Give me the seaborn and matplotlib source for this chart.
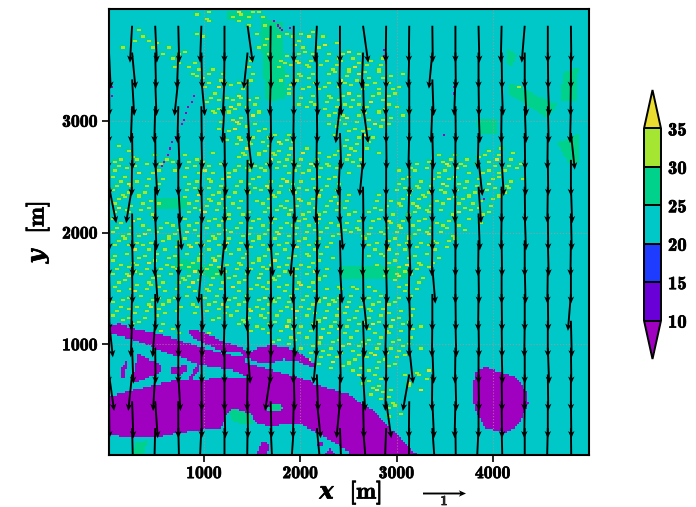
import numpy as np
import pandas as pd
import seaborn as sns
import matplotlib.pyplot as plt
import matplotlib.patheffects as pe
from matplotlib.path import Path
from matplotlib.colors import ListedColormap, BoundaryNorm

# colour bands of the field
levels = [10, 15, 20, 25, 30, 35]
band_colors = ['#6a00d8', '#1e3cff', '#00c8c8', '#00d28c', '#a4e632']
under_color = '#a000c0'
over_color = '#e8dc30'

# water areas, metres
upper_channel = [(0, 1166), (114, 1175), (253, 1136), (462, 1100), (705, 1037), (948, 965), (1191, 912), (1365, 882),
                 (1434, 912), (1538, 956), (1677, 980), (1833, 971), (1990, 912), (2163, 807), (2129, 783), (1955, 843),
                 (1816, 858), (1677, 828), (1573, 822), (1434, 876), (1406, 831), (1851, 726), (2163, 642), (1469, 696),
                 (1278, 762), (948, 807), (774, 867), (531, 941), (253, 1037), (0, 1091)]
main_river = [(0, 523), (253, 583), (705, 672), (948, 672), (1208, 696), (1469, 696), (2129, 642), (2511, 538), (2615, 463),
              (2754, 403), (2893, 269), (3032, 161), (3188, 18), (3230, 0), (2511, 0), (2493, 29), (2337, 119), (2163, 194),
              (1990, 278), (1851, 275), (1677, 254), (1538, 284), (1469, 373), (1295, 418), (1226, 373), (1174, 239),
              (948, 224), (705, 194), (462, 149), (253, 149), (10, 179), (0, 179)]
side_channel = [(826, 1121), (948, 1112), (1191, 1016), (1399, 956), (1434, 912), (1191, 927), (948, 1016), (844, 1076)]
pond_a = [(305, 912), (392, 867), (548, 807), (548, 747), (392, 687), (253, 642), (236, 672), (271, 792)]
pond_b = [(114, 687), (132, 777), (177, 846), (191, 807), (156, 687)]
pond_c = [(653, 792), (809, 801), (816, 762), (739, 717), (653, 726)]
pond_d = [(816, 687), (930, 807), (948, 777), (861, 672)]
pond_e = [(1538, 0), (1590, 119), (1677, 104), (1642, 0)]
pond_f = [(2163, 74), (2215, 134), (2233, 89)]
pond_g = [(2233, 0), (2302, 60), (2355, 0)]
lake = [(3793, 628), (3814, 745), (3918, 789), (4074, 745), (4231, 700), (4356, 565), (4366, 449), (4262, 269),
        (4127, 197), (4054, 215), (3918, 242), (3814, 404), (3783, 538)]
water_areas = [upper_channel, main_river, side_channel, pond_a, pond_b, pond_c, pond_d, pond_e, pond_f, pond_g, lake]

# warmer patches (25-30)
warm_areas = [[(1573, 3930), (1813, 3870), (1830, 3200), (1640, 3160), (1600, 3500)],
              [(4157, 3346), (4668, 3140), (4564, 3023), (4178, 3229)],
              [(4147, 3650), (4251, 3588), (4199, 3480), (4147, 3520)],
              [(4730, 3435), (4887, 3470), (4876, 3166), (4700, 3166)],
              [(3834, 3023), (4040, 3023), (4040, 2870), (3850, 2870)],
              [(1230, 3974), (1500, 3974), (1500, 3900), (1230, 3900)],
              [(4668, 2799), (4900, 2880), (4900, 2620), (4780, 2620)],
              [(2407, 1686), (3100, 1700), (3100, 1570), (2407, 1570)],
              [(690, 1776), (1180, 1660), (1180, 1570), (690, 1670)],
              [(480, 2300), (820, 2300), (820, 2210), (480, 2210)],
              [(1642, 433), (1747, 463), (1833, 418), (1781, 397), (1642, 403)],
              [(1243, 388), (1295, 415), (1469, 373), (1503, 284), (1400, 270), (1295, 300)],
              [(270, 120), (400, 130), (360, 0), (250, 0)]]

# small cold spots
spot_x = [552, 580, 610, 637, 665, 692, 720, 750, 780, 805, 830, 858, 885, 1720, 1760, 1780, 1800, 1880, 30, 40, 2860, 2870,
          2880, 3590, 3600, 3480, 3907]
spot_y = [2583, 2640, 2690, 2745, 2800, 2850, 2905, 2960, 3010, 3065, 3120, 3170, 3225, 3900, 3860, 3840, 3820, 3830, 3300,
          3230, 3640, 3580, 3520, 3310, 3240, 2870, 2305]

# warm speckles over the built-up area, one row every 62.5 m from the top
speckle_rows = [
    ".................#.#.....*#.#.#",
    "...................##...#.##..#",
    "............................#..#",
    "......#..........#...........#.....#..#.#",
    ".....##.#.........#............#.#..#.#*..#",
    "..#.....##.#.................#.#.....##..#.*.#",
    "..........#..#.#...............#...#.#.##..#..#.*#",
    "............#.#..#..........#.....##.#*.#..#.##.#.#.#.#",
    ".............#..##..#.......#.....#.#..##.#.##.#.*.#.##",
    "................##.#..#.....#......#.##.#..#.#.##*.#..#.#.#",
    "..................#.#.##..#.#.....#..#.#.#..#.*#.#.#.##.#",
    "...................#..*.#.##.......##.#.##.#..#.#.##.#..#.#.......................#",
    "....................##.#.*#..#......#.#.#..##.#.*#..#.##.#",
    "...................#.#..#.#*.#........#.##.#.#.##.#.*.#.#",
    "....................#.##*#.#.#.........#...#.#..#.##.#.#.#.#",
    ".....................#..#.#.*.#............#.##*.#.#..#.#.#",
    "......................#.#*#..#..............##.#.#.#.*#.#",
    "......................##.*.#.#.#.............#.#.##.#.#",
    ".......................#.#*.#..#.#.##........#.#.#.*#",
    "..#......................#.##.#.#*#.#..........#.#.#",
    "....#...............#.....#*.#.##.#.#.*#.#....#.##.#.#......................#.#.#",
    "..#.##...#.#...#.#.......#.#..#.*#.##.#..#.#.#.#*.#...............#.##.#.#.#.*#.#",
    "#.#..#.#..#.#..#.##.#.#...##.#.#.#.##.#.*#.##.#.#.#..........#.#..#*#.##.#.#.#..#.#",
    ".#.#.*..#.#..#.#.#.*#..#.#.##.##.#.#.##.#.#..#.#..........#.##.#.#.#.*.#..#.##.#.#",
    "#.##.#.#..#....#.#.##.#.*.#.#.#.#.#*..#.#.##.#............#.*.#.#.##.#.#.#..#.#.#.#",
    ".#.*#..#.#.....#.#..#.##.#.#.#.*#.#.#.#..#.#.#...........#.#.##.#.*#.#.#.#.*.#.##",
    "#.#.##.#.*.....#.*#.#.#..#.##.#.#.#.##.#.*#..#.#.....#...#.#*.#.#.##.#.#.#.#.#.#",
    ".#.#..#.#......#.#.##.*.#.#..#.#.#.#.*#.#.#.##.#.....#..#.#..#.#.#.*.##.#.#.#.#",
    "#.*.#.#.##.....#.#.#.#.##.#...#.#.##.#.#.#.#.*.#.....#.#.##.#*#.#.#..#.##.#.#",
    ".#.##.#.#.......#.#*.#.#..#.#..#.#.#*.#.##.#.#.#.#..#.#.#..#.#.##.#.#.*.#.#.#",
    "#.#.*.#..#.#...#.#.#.##.#.#.#.#.##.#.#.#.#*.#..#.#..#.#*#.#.##.#.#.#.#..#.#",
    ".#..#.#.#.#.#.##.#.#.#.*.#..#.#.#.#.##.#.#.#.#.#.##.#..#.#*.#.#.#.##.#.#",
    "#.#.##.*.#.#.#.*.#..#.#.#.#.##.#.#*#.#.#..#.#.#.#.#.#.##.#.#.#.#*.#.#",
    ".#.#.#..#.#.##.#.#.#.#.*#.#.#.#..#.#.#.#.##.#......#.#.#.#.#*.#.##.#.#",
    "#..#.*#.#..#.#.#*.#.##.#..#.#.#.##.#.*.#.#.#.......#.#.#*#.#.#.#.#.#",
    ".#.#.#.#.#.#.#.#.##.#.#.#.#*.#.#.#.#.#.##.#.#.......#.##.#.#.#.#.#",
    "#.#.##.*.#.#..#.#.#.#*.#.##.#.#.#*.#..#.#.#..........#.#.#.*.##.#",
    ".#.#.#.#..#.##.#.*.#.#.#.#..#.##.#.#.#.#.*.#...........#.#.#.#.#",
    "#..#*.#.#.#.#.#.#.#.##.#.#.#.*#.#.#.##.#.#.#...........#.#*.#.#",
    ".#.#.#.##.#..#.#*.#.#.#..#.#.#.#.#.#.#*.#.#..............#.#.#",
    "#.#.#*.#.#.#.#.#.#.##.#.*.#.#.##.#.#.#.#.#.#.##.##.#.#...#.#.#",
    "..#.#.#.#.##.#.#.#.#.#.#.#.#.#.*#.#.#.##.#.*#.#.#.#.#.#...#.#",
    "#.#..#.#*.#.#.#.##.#.#*#.#.#.#.#.#.##.#.#.##.#.*#.#.#.##.#",
    ".#.#.#.#.#.#.#...#.#.#.#.#.#*.#.#.#.#*.#.#.#.#.#.#.##.#.#.#.#",
    "#.#.#..#.#..........#.#.#.#.#.##.#.#.#.#.#.*.#.#.#..#.#.*.#.#",
    "..#.#.#...#..............#.#.#.#.#.*#.#.#.#.##.#.#.#*.#.#.#.#.#",
    "....#.....#.#.#.....#.......#.#.#.#.#.#.#.#.#*.#.#.#.#.##.#.#",
    "..................#.............#.#.##.#.#*.#.#.#.#.#.#.#.#.#",
    "....................................#.#.#.#.#.#.*#.#.##.#.#.#.#",
    ".....................................##.#.#.#.#.#.#.#*.#.#.#",
    "........................................#.#.*#.#.#.#.#.#.#",
    "..........................................#.#.#.#.#..#.#.#",
    "................................................#.*#.#.....#.##*",
    "..................................................#.#.#....*...#",
    "....................................................#*#.#...#.*.",
    "....................................................#.#.#",
    "......................................................#.#",
    ".......................................................#.#",
    "........................................................#.#",
]

# vectors: tails every 240 m, east component in hundredths per row
tail_x = [12 + 240 * i for i in range(21)]
tail_y = [3850, 3610, 3370, 3130, 2890, 2650, 2410, 2170, 1930, 1690, 1450, 1210, 970, 730, 490, 250]
v_row = [-0.86, -0.84, -0.85, -0.86, -0.85, -0.84, -0.85, -0.86, -0.84, -0.85, -0.86, -0.85, -0.84, -0.85, -0.86, -0.85]
u_rows = [
    [np.nan, -5, 4, 2, -3, 0, 12, -1, 0, -4, 0, 12, -1, -1, 1, 0, 2, -2, -7, 0, 1],
    [4, 8, 2, -3, 2, -1, -9, 1, 0, 0, -1, -3, 0, -2, -8, 1, 0, 1, 0, 1, 0],
    [1, 5, 3, -9, 8, -4, 0, -2, 0, 2, 3, 2, -1, 0, 3, -3, 1, 3, 4, 3, -1],
    [0, -3, -2, -2, 1, -5, 4, 1, -1, 1, -10, 12, 0, 0, -3, 1, 3, -1, 3, 2, -2],
    [-2, 1, 1, 3, 2, 1, 10, -2, 1, -1, 3, 0, 1, -2, 2, 0, -2, 1, 1, -1, 9],
    [1, -1, 5, 0, -2, 3, -1, 0, -2, 1, -4, -8, 0, 1, -1, -2, 9, 5, 2, 1, 0],
    [17, -14, 1, 5, 2, 1, 0, 1, 3, -3, -1, 1, -1, -2, 0, -1, 6, 0, 1, -1, 3],
    [1, 1, 3, 8, -1, 1, -2, 0, -1, 2, 7, 1, 2, 1, 0, 1, 3, -1, 3, 1, 2],
    [0, 2, -1, 1, -1, -8, 1, 5, -8, 1, 2, -1, 0, 3, -1, 0, -1, 1, 0, 2, -1],
    [2, 1, 6, 0, -7, 2, 0, 1, -2, 0, 5, 1, 2, -1, 7, 0, 1, 0, 2, -1, 0],
    [1, -2, 1, -1, 3, 0, -2, 0, 1, -8, 1, 9, -1, 2, 0, 1, -1, 1, 0, 1, -7],
    [9, -3, -6, 1, 2, -2, 2, 1, 3, -1, 0, 3, -2, 0, -1, 2, 1, 1, -1, 0, 2],
    [-1, 3, 1, 0, 1, 0, 6, -1, -1, -8, 2, 1, 0, 9, 3, -1, 0, 2, 0, 3, 1],
    [12, -9, -5, 5, 1, 0, -1, -13, 2, 3, -1, 5, -2, -15, -1, 2, 1, 1, -1, 1, 0],
    [1, 3, 6, 0, 1, 2, 1, 2, -2, 9, -8, 2, 12, -1, 4, -2, 0, 1, -1, 0, 1],
    [-1, 2, -2, 2, -4, 0, -1, 4, -6, 8, 3, 7, -3, -1, 6, 1, -4, 2, 0, -2, 1],
]

x_ticks = [1000, 2000, 3000, 4000]
y_ticks = [1000, 2000, 3000]

# build the field on a fine grid
nx_cells, ny_cells = 240, 203
xs = np.linspace(0, 5000, nx_cells, endpoint=False) + 5000 / nx_cells / 2
ys = np.linspace(4000, 0, ny_cells, endpoint=False) - 4000 / ny_cells / 2
xx, yy = np.meshgrid(xs, ys)
cells = np.column_stack([xx.ravel(), yy.ravel()])
field = np.full(xx.shape, 22.0)


def fill_area(verts, value):
    field[Path(verts).contains_points(cells).reshape(xx.shape)] = value


for verts in warm_areas[:10]:
    fill_area(verts, 27)
for verts in water_areas:
    fill_area(verts, 8)
for verts in warm_areas[10:]:
    fill_area(verts, 27)
is_water = field < 10

# green rims first, then the dots, nudged so they do not sit in rows
dots = []
for r, row in enumerate(speckle_rows):
    for c, ch in enumerate(row):
        if ch == '.':
            continue
        i = int(r * 62.5 / 4000 * ny_cells) + 1 + (c * 7 + r * 3) % 3 - 1
        j = int(c * 52 / 5000 * nx_cells) + 1 + (r * 5 + c * 2) % 3 - 1
        i = min(max(i, 1), ny_cells - 1)
        j = min(max(j, 1), nx_cells - 3)
        dots.append((i, j, ch))
        rim = field[i, j - 1:j + 3]
        rim[rim == 22] = 27
        if field[i - 1, j] == 22:
            field[i - 1, j] = 27
for i, j, ch in dots:
    for jj in (j, j + 1):
        if not is_water[i, jj]:
            field[i, jj] = 32 if ch == '#' else 37
field[is_water] = 8

for sx, sy in zip(spot_x, spot_y):
    i = int((4000 - sy) / 4000 * ny_cells)
    j = int(sx / 5000 * nx_cells)
    field[i, j] = 8

sns.set_theme(style='white')
plt.rcParams['font.family'] = ['cmb10', 'DejaVu Serif']
plt.rcParams['mathtext.fontset'] = 'custom'
plt.rcParams['mathtext.it'] = 'DejaVu Serif:italic:bold'
plt.rcParams['mathtext.rm'] = 'cmb10'
plt.rcParams['axes.unicode_minus'] = False

W, H = 696, 507
heavy = [pe.withStroke(linewidth=0.5, foreground='black')]
fig = plt.figure(figsize=(W / 100, H / 100), dpi=100)
box = [109 / W, 1 - 455 / H, 480 / W, 446 / H]
ax_field = fig.add_axes(box)
cax = fig.add_axes([644 / W, 1 - 359 / H, 17 / W, 269 / H])

cmap = ListedColormap(band_colors)
cmap.set_under(under_color)
cmap.set_over(over_color)
norm = BoundaryNorm(levels, cmap.N)

sns.heatmap(pd.DataFrame(field), ax=ax_field, cmap=cmap, norm=norm, cbar_ax=cax,
            xticklabels=False, yticklabels=False,
            cbar_kws={'extend': 'both', 'extendfrac': 0.2, 'drawedges': True, 'ticks': levels})
cb = ax_field.collections[0].colorbar
cb.outline.set_linewidth(1.4)
cb.outline.set_edgecolor('black')
cb.dividers.set_color('black')
cb.dividers.set_linewidth(1.4)
cb.ax.tick_params(length=0, pad=5, labelsize=13.5, labelcolor='black')
for label in cb.ax.get_yticklabels():
    label.set_path_effects(heavy)

ax = fig.add_axes(box, facecolor='none')
ax.set_xlim(12, 5000)
ax.set_ylim(9, 4000)

X, Y = np.meshgrid(tail_x, tail_y)
U = np.array(u_rows) / 100
V = np.tile(np.array(v_row)[:, None], (1, len(tail_x)))
q = ax.quiver(X, Y, U, V, angles='uv', scale_units='inches', scale=1 / 0.43, units='inches', width=0.019,
              headwidth=3.4, headlength=3.8, headaxislength=3.0, color='black', zorder=3)
key = ax.quiverkey(q, X=444 / W, Y=1 - 493 / H, U=1, label='1', labelpos='S', coordinates='figure', labelsep=0.03,
                   fontproperties={'family': 'cmb10', 'size': 10})
key.text.set_path_effects(heavy)

ax.set_xticks(x_ticks)
ax.set_yticks(y_ticks)
ax.grid(True, linestyle=':', color='#c09090', linewidth=0.8, alpha=0.7)
ax.set_axisbelow(True)
ax.tick_params(axis='both', direction='out', length=5, width=1.2, color='black', bottom=True, left=True,
               labelsize=12.8, labelcolor='black', pad=3)
for label in ax.get_xticklabels() + ax.get_yticklabels():
    label.set_path_effects(heavy)
for spine in ax.spines.values():
    spine.set_visible(True)
    spine.set_linewidth(1.5)
    spine.set_color('black')
fig.text(351 / W, 1 - 493 / H, r'$\mathit{x}\ $ [m]', fontsize=17, ha='center', va='center', color='black', path_effects=heavy)
fig.text(38 / W, 1 - 232 / H, r'$\mathit{y}\ $ [m]', fontsize=17, ha='center', va='center', rotation=90, color='black',
         path_effects=heavy)

fig.savefig('out.png', dpi=100)
